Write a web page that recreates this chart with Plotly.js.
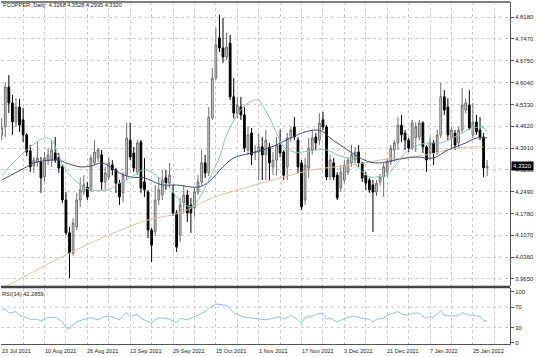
<!DOCTYPE html>
<html>
<head>
<meta charset="utf-8">
<script src="https://cdn.plot.ly/plotly-3.0.1.min.js"></script>
<style>
  html, body { margin: 0; padding: 0; background: #ffffff; }
  #chart { width: 536px; height: 357px; }
</style>
</head>
<body>
<div id="chart"></div>
<script>
// ---- Data ----
const openP  = [4.434,4.460,4.590,4.538,4.476,4.525,4.483,4.434,4.382,4.333,4.346,4.346,4.297,4.352,4.352,4.375,4.362,4.330,4.222,4.115,
                4.049,4.134,4.222,4.248,4.264,4.255,4.343,4.359,4.369,4.281,4.297,4.336,4.320,4.277,4.245,4.303,4.417,4.375,4.313,4.411,
                4.281,4.248,4.124,4.118,4.222,4.238,4.294,4.277,4.245,4.180,4.108,4.212,4.238,4.206,4.196,4.248,4.281,4.343,4.310,4.489,
                4.619,4.750,4.717,4.688,4.733,4.558,4.505,4.525,4.499,4.385,4.440,4.375,4.378,4.395,4.369,4.395,4.330,4.352,4.401,4.378,
                4.330,4.424,4.460,4.417,4.343,4.222,4.326,4.385,4.427,4.417,4.483,4.460,4.297,4.343,4.303,4.261,4.287,4.313,4.343,4.352,
                4.378,4.343,4.303,4.287,4.271,4.248,4.281,4.297,4.313,4.346,4.385,4.408,4.466,4.440,4.417,4.391,4.424,4.427,4.473,4.395,
                4.375,4.408,4.378,4.434,4.558,4.525,4.424,4.440,4.408,4.450,4.515,4.531,4.434,4.476,4.450,4.427,4.3268];
const highP  = [4.489,4.606,4.629,4.564,4.554,4.551,4.522,4.440,4.401,4.362,4.411,4.362,4.378,4.391,4.417,4.427,4.375,4.336,4.248,4.134,
                4.163,4.245,4.297,4.303,4.281,4.369,4.417,4.391,4.385,4.330,4.362,4.352,4.326,4.287,4.313,4.473,4.473,4.395,4.417,4.417,
                4.359,4.255,4.131,4.271,4.297,4.320,4.320,4.343,4.271,4.189,4.229,4.271,4.255,4.229,4.261,4.303,4.385,4.369,4.525,4.652,
                4.782,4.825,4.815,4.766,4.759,4.619,4.558,4.558,4.525,4.460,4.457,4.401,4.440,4.427,4.450,4.408,4.378,4.427,4.450,4.385,
                4.440,4.460,4.492,4.427,4.352,4.359,4.424,4.450,4.440,4.505,4.509,4.466,4.369,4.359,4.313,4.336,4.352,4.362,4.401,4.395,
                4.401,4.346,4.313,4.294,4.287,4.287,4.307,4.343,4.359,4.401,4.417,4.492,4.499,4.450,4.424,4.483,4.476,4.483,4.479,4.401,
                4.427,4.417,4.450,4.603,4.580,4.554,4.460,4.450,4.460,4.587,4.554,4.580,4.538,4.499,4.492,4.440,4.3528];
const lowP   = [4.417,4.427,4.505,4.434,4.460,4.444,4.411,4.365,4.313,4.310,4.330,4.245,4.281,4.336,4.330,4.343,4.310,4.212,4.108,3.968,
                4.040,4.124,4.199,4.238,4.222,4.248,4.336,4.346,4.255,4.255,4.287,4.303,4.245,4.206,4.216,4.287,4.352,4.313,4.303,4.245,
                4.232,4.098,4.020,4.105,4.206,4.222,4.255,4.261,4.170,4.053,4.085,4.180,4.150,4.115,4.167,4.238,4.271,4.294,4.300,4.483,
                4.613,4.704,4.668,4.678,4.548,4.489,4.489,4.483,4.378,4.369,4.336,4.352,4.287,4.287,4.287,4.287,4.303,4.303,4.362,4.287,
                4.287,4.411,4.417,4.310,4.189,4.206,4.294,4.369,4.385,4.401,4.450,4.287,4.287,4.287,4.222,4.248,4.277,4.303,4.330,4.343,
                4.330,4.281,4.255,4.245,4.118,4.235,4.268,4.232,4.297,4.336,4.346,4.385,4.411,4.385,4.378,4.385,4.378,4.417,4.375,4.313,
                4.352,4.336,4.369,4.424,4.499,4.417,4.385,4.385,4.395,4.440,4.505,4.450,4.424,4.434,4.417,4.297,4.2995];
const closeP = [4.457,4.590,4.538,4.476,4.525,4.466,4.434,4.378,4.330,4.352,4.359,4.294,4.359,4.369,4.385,4.352,4.326,4.222,4.115,4.049,
                4.147,4.222,4.255,4.271,4.232,4.359,4.378,4.385,4.281,4.310,4.343,4.320,4.277,4.232,4.303,4.424,4.362,4.326,4.408,4.261,
                4.255,4.124,4.075,4.222,4.255,4.287,4.277,4.303,4.180,4.069,4.206,4.238,4.180,4.180,4.248,4.281,4.343,4.310,4.492,4.619,
                4.727,4.717,4.688,4.720,4.558,4.505,4.531,4.499,4.391,4.434,4.369,4.378,4.395,4.369,4.417,4.343,4.352,4.401,4.375,4.303,
                4.424,4.450,4.427,4.330,4.199,4.336,4.391,4.424,4.408,4.473,4.460,4.297,4.352,4.297,4.229,4.313,4.336,4.352,4.369,4.378,
                4.343,4.294,4.277,4.255,4.248,4.277,4.297,4.330,4.346,4.391,4.408,4.466,4.434,4.417,4.391,4.473,4.460,4.473,4.395,4.352,
                4.408,4.375,4.434,4.558,4.515,4.434,4.450,4.401,4.450,4.531,4.538,4.457,4.476,4.444,4.427,4.3268,4.3320];

// Moving averages, read at sampled bars
const maFastIdx = [0,7,12,14,16,18,22,25,30,32,36,40,47,49,53,55,58,61,63,66,69,72,73,75,77,79,82,84,88,91,94,98,100,103,105,108,110,114,119,123,128,132,135,136];
const maFastVal = [4.303,4.385,4.424,4.417,4.362,4.320,4.271,4.255,4.255,4.271,4.294,4.320,4.264,4.232,4.199,4.222,4.287,4.362,4.434,4.499,4.538,4.548,4.531,4.492,4.440,4.395,4.378,4.378,4.385,4.385,4.369,4.352,4.326,4.297,4.297,4.303,4.330,4.385,4.408,4.408,4.434,4.457,4.457,4.444];
const maMidIdx  = [0,7,9,14,16,18,22,25,28,30,33,36,40,45,49,55,58,62,65,71,75,81,84,88,90,92,96,100,103,106,110,116,121,125,130,133,136];
const maMidVal  = [4.287,4.330,4.343,4.352,4.352,4.343,4.330,4.333,4.343,4.333,4.310,4.297,4.294,4.271,4.271,4.264,4.281,4.330,4.359,4.378,4.392,4.424,4.440,4.450,4.444,4.424,4.392,4.362,4.346,4.343,4.352,4.362,4.359,4.385,4.408,4.424,4.424];
const maSlowIdx = [0,2,11,19,30,41,50,59,69,78,87,98,106,119,128,135];
const maSlowVal = [3.932,3.945,4.001,4.049,4.108,4.157,4.180,4.229,4.264,4.294,4.320,4.336,4.352,4.369,4.392,4.395];

// RSI(14), read at sampled bars
const rsiIdx = [0,1,2,4,5,8,10,11,13,15,17,18,19,21,24,25,27,29,31,33,35,36,38,39,42,43,45,47,49,50,52,54,56,57,58,60,62,63,65,66,68,70,72,74,76,78,79,81,82,84,85,87,89,90,91,92,94,96,97,99,101,103,104,105,107,108,111,112,114,115,117,118,119,120,121,123,124,126,128,129,131,132,134,135,136];
const rsiVal = [64,67,58,61,54,46,46,43,49,50,41,29,28,41,48,49,45,52,50,45,59,51,56,48,38,46,49,46,39,48,45,52,58,61,67,76,74,74,58,56,50,48,46,45,48,51,46,54,50,38,50,52,58,56,46,48,41,46,50,52,48,46,41,46,48,54,61,56,54,58,58,52,48,51,50,63,54,52,54,59,54,54,51,43,42.29];

// Axis labels
const dateTickIdx  = [0,12,24,36,48,60,72,84,96,108,120,132];
const dateTickText = ['23 Jul 2021','10 Aug 2021','26 Aug 2021','13 Sep 2021','29 Sep 2021','15 Oct 2021','1 Nov 2021','17 Nov 2021','3 Dec 2021','21 Dec 2021','7 Jan 2022','25 Jan 2022'];
const priceTicks = [4.818,4.747,4.675,4.604,4.533,4.462,4.391,4.320,4.249,4.178,4.107,4.036,3.965];
const priceTickText = ['4.8180','4.7470','4.6750','4.6040','4.5330','4.4620','4.3910','4.3200','4.2490','4.1780','4.1070','4.0360','3.9650'];
const rsiTicks = [0,30,70,100];
const rsiLevels = [30,70];
const symbolText = 'FCOPPER,,Daily';
const lastPrice = 4.3320;
const rsiLast = 42.2859;

// ---- Chart ----
const barIdx = openP.map((_, i) => i);
const FONT = 'Liberation Sans, Arial, sans-serif';

const traces = [
  {
    type: 'candlestick', x: barIdx, open: openP, high: highP, low: lowP, close: closeP,
    xaxis: 'x', yaxis: 'y', hoverinfo: 'skip', whiskerwidth: 0,
    increasing: { line: { color: '#6f6f6f', width: 1 }, fillcolor: '#d6d6d6' },
    decreasing: { line: { color: '#000000', width: 1 }, fillcolor: '#000000' },
    showlegend: false
  },
  { type: 'scatter', mode: 'lines', x: maSlowIdx, y: maSlowVal, xaxis: 'x', yaxis: 'y',
    line: { color: '#d9c3a5', width: 1, shape: 'spline', smoothing: 1 }, hoverinfo: 'skip', showlegend: false },
  { type: 'scatter', mode: 'lines', x: maMidIdx, y: maMidVal, xaxis: 'x', yaxis: 'y',
    line: { color: '#3d4a78', width: 1, shape: 'spline', smoothing: 1 }, hoverinfo: 'skip', showlegend: false },
  { type: 'scatter', mode: 'lines', x: maFastIdx, y: maFastVal, xaxis: 'x', yaxis: 'y',
    line: { color: '#86c3bd', width: 1, shape: 'spline', smoothing: 1 }, hoverinfo: 'skip', showlegend: false },
  { type: 'scatter', mode: 'lines', x: rsiIdx, y: rsiVal, xaxis: 'x2', yaxis: 'y2',
    line: { color: '#94c2d2', width: 1 }, hoverinfo: 'skip', showlegend: false }
];

const gridCol = '#c9c9c9';
const xRange = [-0.196, 142.4];

const annotations = dateTickIdx.map((v, k) => ({
  xref: 'x2', yref: 'paper', x: v, y: -0.0205, xanchor: 'left', yanchor: 'middle',
  text: dateTickText[k], showarrow: false, xshift: -2,
  font: { family: FONT, size: 5.6, color: '#222' }
}));
annotations.push({
  xref: 'paper', yref: 'paper', x: 0, y: 0.9898, xanchor: 'left', yanchor: 'middle',
  text: symbolText + '\u00a0\u00a0' + [openP[openP.length-1], highP[highP.length-1], lowP[lowP.length-1], closeP[closeP.length-1]].map(v => v.toFixed(4)).join(' '),
  showarrow: false, xshift: 0, font: { family: FONT, size: 5.6, color: '#222' }
});
annotations.push({
  xref: 'paper', yref: 'paper', x: 0, y: 0.1462, xanchor: 'left', yanchor: 'middle',
  text: 'RSI(14) ' + rsiLast.toFixed(4), showarrow: false, xshift: -1,
  font: { family: FONT, size: 5.7, color: '#222' }
});
annotations.push({
  xref: 'paper', yref: 'y', x: 1, y: lastPrice, xanchor: 'left', yanchor: 'middle',
  text: lastPrice.toFixed(4), showarrow: false, xshift: 1,
  bgcolor: '#000000', borderpad: 1,
  font: { family: FONT, size: 5.9, color: '#ffffff' }
});

const shapes = [
  { type: 'line', xref: 'paper', yref: 'paper', x0: 0, x1: 1, y0: 1, y1: 1, line: { color: '#808080', width: 2 } },
  { type: 'line', xref: 'paper', yref: 'paper', x0: 0, x1: 1, y0: 0.1667, y1: 0.1667, line: { color: '#444444', width: 2.5 } }
];
rsiLevels.forEach(l => shapes.push({
  type: 'line', xref: 'paper', yref: 'y2', x0: 0, x1: 1, y0: l, y1: l,
  line: { color: gridCol, width: 1, dash: 'dot' }, layer: 'below'
}));

const layout = {
  width: 536, height: 357,
  margin: { l: 1, r: 26, t: 2, b: 13, pad: 0 },
  paper_bgcolor: '#ffffff', plot_bgcolor: '#ffffff',
  font: { family: FONT, size: 6, color: '#222' },
  showlegend: false,
  xaxis: {
    domain: [0, 1], anchor: 'y', range: xRange, tick0: 0, dtick: 6,
    showticklabels: false, ticks: '', showgrid: true, gridcolor: gridCol, griddash: 'dot', gridwidth: 1,
    zeroline: false, showline: false, rangeslider: { visible: false }, fixedrange: true
  },
  xaxis2: {
    domain: [0, 1], anchor: 'y2', range: xRange, tick0: 0, dtick: 6, matches: 'x',
    showticklabels: false, ticks: '', showgrid: true, gridcolor: gridCol, griddash: 'dot', gridwidth: 1,
    zeroline: false, showline: true, linecolor: '#555555', linewidth: 1, rangeslider: { visible: false }
  },
  yaxis: {
    domain: [0.1696, 1], anchor: 'x', side: 'right', range: [3.9419, 4.8669],
    tickmode: 'array', tickvals: priceTicks, ticktext: priceTickText,
    ticks: 'outside', ticklen: 3, tickcolor: '#555555', tickwidth: 1,
    showgrid: true, gridcolor: gridCol, griddash: 'dot', gridwidth: 1,
    zeroline: false, showline: true, linecolor: '#555555', linewidth: 1,
    tickfont: { family: FONT, size: 5.9, color: '#222' }
  },
  yaxis2: {
    domain: [0, 0.1637], anchor: 'x2', side: 'right', range: [-2.5, 107.3],
    tickmode: 'array', tickvals: rsiTicks, ticktext: rsiTicks.map(String),
    ticks: 'outside', ticklen: 3, tickcolor: '#555555', tickwidth: 1,
    showgrid: false, zeroline: false, showline: true, linecolor: '#555555', linewidth: 1,
    tickfont: { family: FONT, size: 5.9, color: '#222' }
  },
  annotations: annotations,
  shapes: shapes
};

Plotly.newPlot('chart', traces, layout, { staticPlot: true, displayModeBar: false });
</script>
</body>
</html>
